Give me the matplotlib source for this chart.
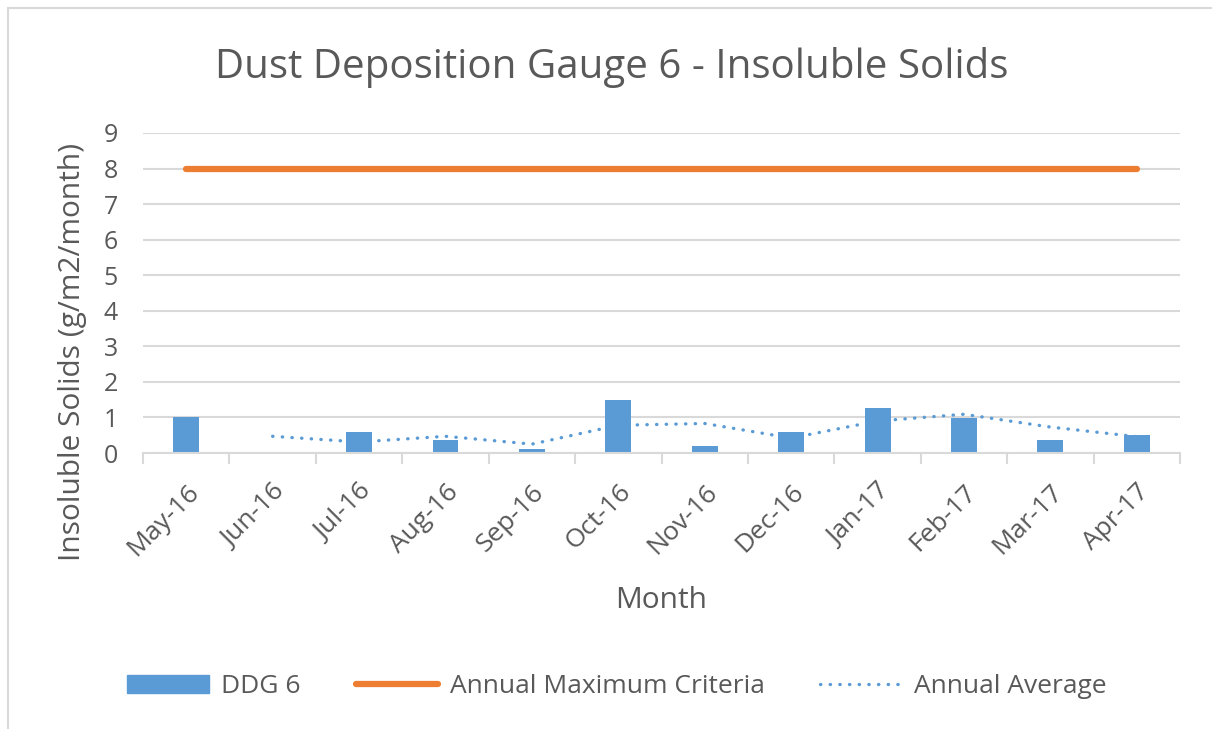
import matplotlib.pyplot as plt
import matplotlib.patches as mpatches
from matplotlib.lines import Line2D
import numpy as np

months = ['May-16', 'Jun-16', 'Jul-16', 'Aug-16', 'Sep-16', 'Oct-16',
          'Nov-16', 'Dec-16', 'Jan-17', 'Feb-17', 'Mar-17', 'Apr-17']
ddg6 = [1.0, 0.0, 0.58, 0.36, 0.1, 1.48, 0.19, 0.58, 1.26, 0.99, 0.36, 0.5]
criteria = [8] * 12
avg_months = months[1:]
annual_avg = [0.47, 0.31, 0.47, 0.25, 0.78, 0.83, 0.42, 0.9, 1.09, 0.73, 0.46]

plt.rcParams['font.family'] = ['Open Sans', 'DejaVu Sans']
txt = '#595959'
grid = '#d9d9d9'
blue = '#5B9BD5'
orange = '#ED7D31'

fig = plt.figure(figsize=(12.12, 7.29), dpi=100)
ax = fig.add_axes([0.118, 0.3786, 0.8556, 0.439])

x = np.arange(len(months))
ax.bar(x, ddg6, width=0.3, color=blue, zorder=2, label='DDG 6')
ax.plot(x, criteria, color=orange, lw=4.5, solid_capstyle='round', zorder=3,
        label='Annual Maximum Criteria')
xa = np.arange(1, len(months))
ax.plot(xa, annual_avg, color=blue, lw=2.4, linestyle=(0, (0.1, 2.8)),
        dash_capstyle='round', zorder=3, label='Annual Average')

ax.set_xlim(-0.5, 11.5)
ax.set_ylim(0, 9)
ax.set_yticks(range(10))
ax.yaxis.grid(True, color=grid, lw=1.5, zorder=0)
ax.set_axisbelow(True)
for s in ['top', 'right', 'left']:
    ax.spines[s].set_visible(False)
ax.spines['bottom'].set_color(grid)
ax.spines['bottom'].set_linewidth(1.5)

ax.set_xticks(x)
ax.set_xticklabels(months, rotation=45, ha='right', rotation_mode='anchor')
ax.set_xticks(np.arange(-0.5, 12, 1), minor=True)
ax.tick_params(axis='x', which='major', length=0, pad=19, labelsize=19, labelcolor=txt)
ax.tick_params(axis='x', which='minor', length=8, width=1.5, color=grid)
ax.tick_params(axis='y', length=0, pad=18, labelsize=18, labelcolor=txt)

ax.set_xlabel('Month', fontsize=21.5, color=txt, labelpad=18)
ax.set_ylabel('Insoluble Solids (g/m2/month)', fontsize=21.5, color=txt)
ax.yaxis.set_label_coords(-0.054, 0.316)
fig.text(0.505, 0.907, 'Dust Deposition Gauge 6 - Insoluble Solids',
         ha='center', va='center', fontsize=29, color=txt)

handles = [mpatches.Patch(color=blue),
           Line2D([], [], color=orange, lw=4.5, solid_capstyle='round'),
           Line2D([], [], color=blue, lw=2.4, linestyle=(0, (0.1, 2.8)), dash_capstyle='round')]
labels = ['DDG 6', 'Annual Maximum Criteria', 'Annual Average']
fig.legend(handles, labels, loc='center', bbox_to_anchor=(0.509, 0.058), ncol=3,
           frameon=False, fontsize=19, labelcolor=txt, handlelength=3.1,
           columnspacing=2.1, handletextpad=0.45)

fig.patches.append(mpatches.Rectangle((0.007, -0.1), 1.2, 1.089, transform=fig.transFigure,
                                      fill=False, edgecolor=grid, lw=1.5))

fig.savefig('out.png', dpi=100)
